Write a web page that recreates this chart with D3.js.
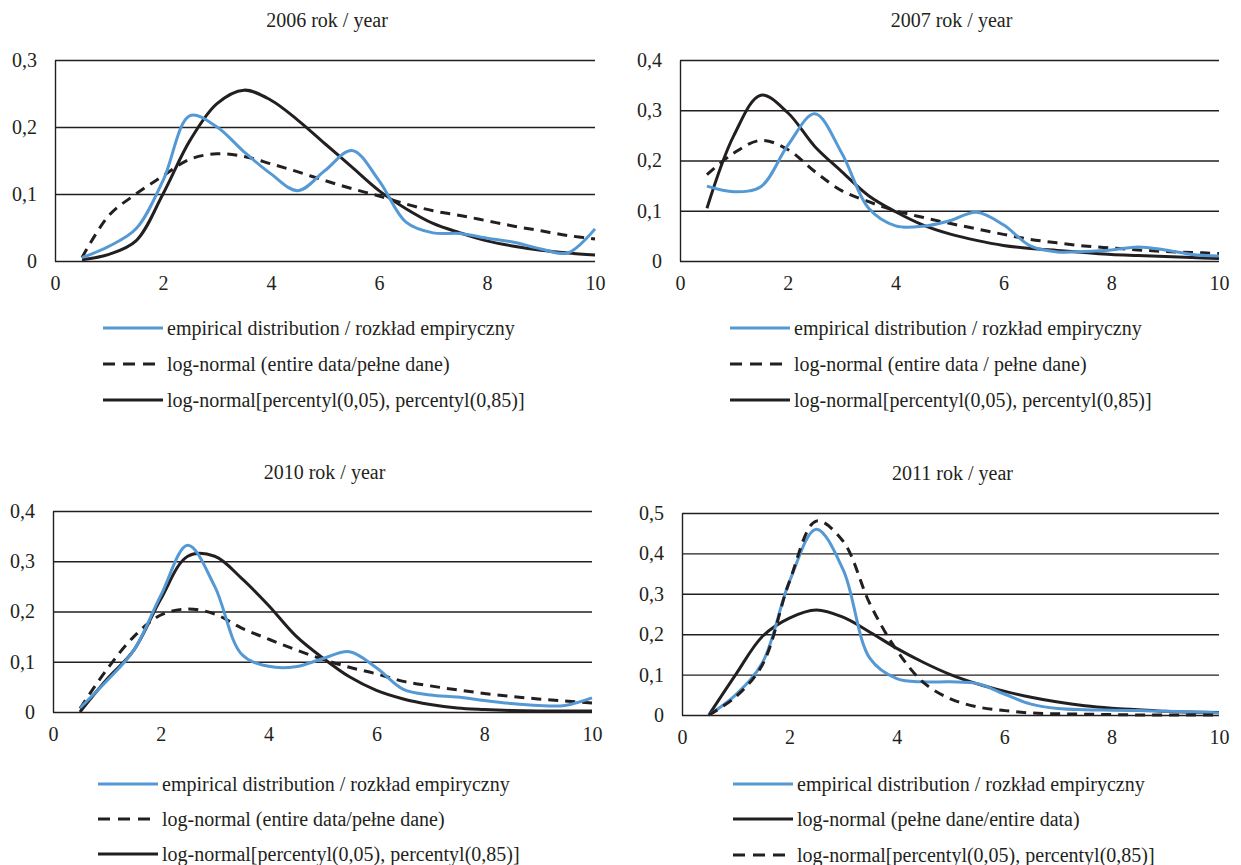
<!DOCTYPE html>
<html>
<head>
<meta charset="utf-8">
<script src="https://cdn.jsdelivr.net/npm/d3@7"></script>
<style>
  body { margin: 0; background: #fff; }
  text { font-family: "Liberation Serif", "Times New Roman", serif; fill: #231f20; }
</style>
</head>
<body>
<div id="chart"></div>
<script>
// x values (class midpoints) shared by all series
const xs = [0.5, 1, 1.5, 2, 2.5, 3, 3.5, 4, 4.5, 5, 5.5, 6, 6.5, 7, 7.5, 8, 8.5, 9, 9.5, 10];

const xTicks = [0, 2, 4, 6, 8, 10];

// 2006
const emp2006 = [0.005, 0.022, 0.048, 0.12, 0.217, 0.2, 0.163, 0.13, 0.105, 0.135, 0.165, 0.12, 0.058, 0.042, 0.041, 0.034, 0.028, 0.018, 0.012, 0.048];
const full2006 = [0.005, 0.068, 0.1, 0.127, 0.152, 0.16, 0.156, 0.145, 0.133, 0.12, 0.108, 0.097, 0.085, 0.075, 0.068, 0.06, 0.052, 0.045, 0.038, 0.033];
const pct2006 = [0.002, 0.01, 0.03, 0.1, 0.18, 0.235, 0.255, 0.24, 0.21, 0.175, 0.14, 0.105, 0.078, 0.056, 0.042, 0.03, 0.022, 0.016, 0.012, 0.009];

// 2007
const emp2007 = [0.149, 0.138, 0.148, 0.23, 0.293, 0.215, 0.105, 0.07, 0.069, 0.08, 0.097, 0.072, 0.03, 0.018, 0.019, 0.022, 0.028, 0.022, 0.013, 0.01];
const full2007 = [0.172, 0.215, 0.24, 0.222, 0.178, 0.14, 0.118, 0.1, 0.087, 0.075, 0.064, 0.053, 0.043, 0.036, 0.03, 0.026, 0.022, 0.019, 0.017, 0.015];
const pct2007 = [0.105, 0.25, 0.33, 0.295, 0.228, 0.178, 0.13, 0.098, 0.072, 0.054, 0.041, 0.031, 0.025, 0.021, 0.017, 0.013, 0.011, 0.009, 0.007, 0.005];

// 2010
const emp2010 = [0.008, 0.062, 0.123, 0.232, 0.332, 0.25, 0.115, 0.091, 0.09, 0.106, 0.12, 0.088, 0.045, 0.034, 0.03, 0.023, 0.017, 0.013, 0.013, 0.028];
const full2010 = [0.007, 0.085, 0.15, 0.193, 0.205, 0.195, 0.167, 0.145, 0.124, 0.105, 0.089, 0.076, 0.061, 0.052, 0.044, 0.037, 0.031, 0.026, 0.022, 0.018];
const pct2010 = [0.0, 0.065, 0.123, 0.225, 0.31, 0.31, 0.266, 0.212, 0.152, 0.108, 0.07, 0.043, 0.026, 0.015, 0.008, 0.005, 0.003, 0.002, 0.002, 0.002];

// 2011
const emp2011 = [0.0, 0.05, 0.13, 0.33, 0.46, 0.36, 0.14, 0.09, 0.082, 0.082, 0.078, 0.052, 0.027, 0.016, 0.013, 0.012, 0.011, 0.009, 0.008, 0.005];
const full2011 = [0.0, 0.1, 0.195, 0.24, 0.26, 0.242, 0.205, 0.165, 0.13, 0.1, 0.077, 0.059, 0.044, 0.032, 0.023, 0.017, 0.013, 0.009, 0.007, 0.006];
const pct2011 = [0.0, 0.045, 0.125, 0.33, 0.48, 0.43, 0.275, 0.16, 0.08, 0.04, 0.02, 0.011, 0.005, 0.003, 0.002, 0.001, 0.0, 0.0, 0.0, 0.0];

const titles = ["2006 rok / year", "2007 rok / year", "2010 rok / year", "2011 rok / year"];
const yMax = [0.3, 0.4, 0.4, 0.5];

const lblEmp = "empirical distribution / rozkład empiryczny";
const lblFull = ["log-normal (entire data/pełne dane)", "log-normal (entire data / pełne dane)", "log-normal (entire data/pełne dane)", "log-normal (pełne dane/entire data)"];
const lblPct = "log-normal[percentyl(0,05), percentyl(0,85)]";

const BLUE = "#5499d4";
const BLACK = "#231f20";

const locale = d3.formatLocale({ decimal: ",", thousands: " ", grouping: [3], currency: ["", ""] });
const fmt1 = locale.format(".1f");

const svg = d3.select("#chart").append("svg")
  .attr("width", 1241)
  .attr("height", 865);

// panel frames: axis left, x=10 position, y=0 position, y=max position, title y, legend
const panels = [
  { left: 55, right: 595, bottom: 261, top: 60, titleY: 27, legX: 103, legY: [328, 364, 400] },
  { left: 680, right: 1219, bottom: 261, top: 60, titleY: 27, legX: 730, legY: [328, 364, 400] },
  { left: 53, right: 592, bottom: 712, top: 511, titleY: 479, legX: 98, legY: [784, 819, 854] },
  { left: 682, right: 1219, bottom: 715, top: 513, titleY: 480, legX: 733, legY: [784, 819, 855] }
];

const seriesByPanel = [
  [{ v: emp2006, c: BLUE, dash: null, label: lblEmp },
   { v: full2006, c: BLACK, dash: "10,7", label: lblFull[0] },
   { v: pct2006, c: BLACK, dash: null, label: lblPct }],
  [{ v: emp2007, c: BLUE, dash: null, label: lblEmp },
   { v: full2007, c: BLACK, dash: "10,7", label: lblFull[1] },
   { v: pct2007, c: BLACK, dash: null, label: lblPct }],
  [{ v: emp2010, c: BLUE, dash: null, label: lblEmp },
   { v: full2010, c: BLACK, dash: "10,7", label: lblFull[2] },
   { v: pct2010, c: BLACK, dash: null, label: lblPct }],
  [{ v: emp2011, c: BLUE, dash: null, label: lblEmp },
   { v: full2011, c: BLACK, dash: null, label: lblFull[3] },
   { v: pct2011, c: BLACK, dash: "10,7", label: lblPct }]
];

// draw order: black lines under the blue one, as in the source
const drawOrder = [[2, 1, 0], [2, 1, 0], [2, 1, 0], [1, 0, 2]];

panels.forEach((p, i) => {
  const x = d3.scaleLinear().domain([0, 10]).range([p.left, p.right]);
  const y = d3.scaleLinear().domain([0, yMax[i]]).range([p.bottom, p.top]);
  const g = svg.append("g");

  // gridlines + left axis
  const yAxis = d3.axisLeft(y)
    .tickValues(d3.range(0, yMax[i] + 1e-9, 0.1))
    .tickSize(-(p.right - p.left))
    .tickSizeOuter(0)
    .tickPadding(18)
    .tickFormat(d => Math.abs(d) < 1e-9 ? "0" : fmt1(d));

  g.append("g")
    .attr("transform", `translate(${p.left},0)`)
    .call(yAxis)
    .call(a => a.selectAll(".tick line").attr("stroke", BLACK).attr("stroke-width", 1.4))
    .call(a => a.select(".domain").attr("stroke", BLACK).attr("stroke-width", 1.4))
    .call(a => a.selectAll("text")
      .attr("font-size", 20)
      .attr("font-family", "Liberation Serif")
      .attr("fill", BLACK));

  const xAxis = d3.axisBottom(x)
    .tickValues(xTicks)
    .tickSize(0)
    .tickPadding(15)
    .tickFormat(d3.format("d"));

  g.append("g")
    .attr("transform", `translate(0,${p.bottom})`)
    .call(xAxis)
    .call(a => a.select(".domain").remove())
    .call(a => a.selectAll("text")
      .attr("font-size", 20)
      .attr("font-family", "Liberation Serif")
      .attr("fill", BLACK));

  // title
  g.append("text")
    .attr("x", (p.left + p.right) / 2 + 2)
    .attr("y", p.titleY)
    .attr("text-anchor", "middle")
    .attr("font-size", 20)
    .text(titles[i]);

  const line = d3.line()
    .x((d, j) => x(xs[j]))
    .y(d => y(d))
    .curve(d3.curveCatmullRom.alpha(0.5));

  const series = seriesByPanel[i];
  drawOrder[i].forEach(k => {
    const s = series[k];
    g.append("path")
      .datum(s.v)
      .attr("fill", "none")
      .attr("stroke", s.c)
      .attr("stroke-width", 3)
      .attr("stroke-linejoin", "round")
      .attr("stroke-dasharray", s.dash)
      .attr("d", line);
  });

  // legend
  series.forEach((s, k) => {
    const ly = p.legY[k];
    g.append("line")
      .attr("x1", p.legX)
      .attr("x2", p.legX + 60)
      .attr("y1", ly)
      .attr("y2", ly)
      .attr("stroke", s.c)
      .attr("stroke-width", 3)
      .attr("stroke-dasharray", s.dash ? "12,8" : null);
    g.append("text")
      .attr("x", p.legX + 64)
      .attr("y", ly)
      .attr("dy", "0.33em")
      .attr("font-size", 20)
      .text(s.label);
  });
});
</script>
</body>
</html>
